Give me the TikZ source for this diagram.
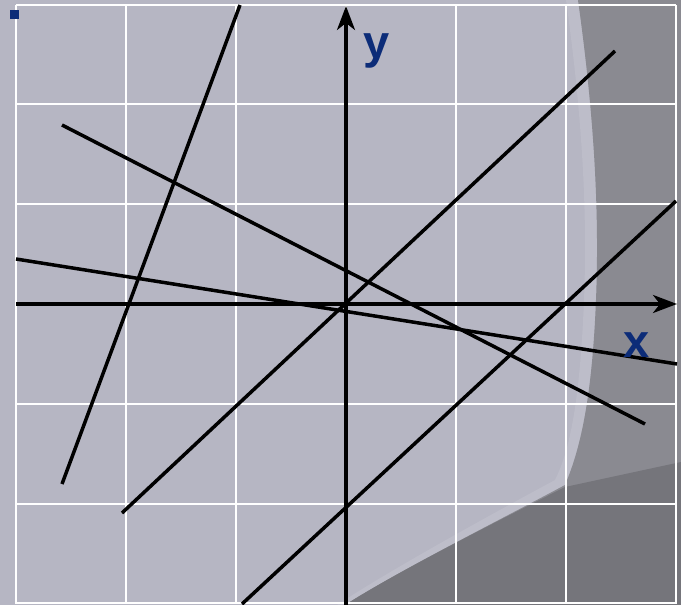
\documentclass[tikz,border=0pt]{standalone}
\usepackage{fontspec}
\newfontfamily\lblfont{Liberation Sans}
\usetikzlibrary{arrows.meta}
\definecolor{bglight}{HTML}{B6B6C3}
\definecolor{bgmid}{HTML}{8A8A91}
\definecolor{bgdark}{HTML}{75757B}
\definecolor{bghigh}{HTML}{BDBDC9}
\definecolor{lblblue}{HTML}{0C2C78}
\tikzset{
  gridline/.style={white, line width=2.8pt},
  blackline/.style={black, line width=3.5pt, line cap=butt},
  axisline/.style={black, line width=3.3pt, -{Stealth[length=24pt,width=18pt,inset=7pt]}},
  lbl/.style={text=lblblue, font=\lblfont\bfseries\fontsize{47}{47}\selectfont, inner sep=0pt, anchor=base}
}
\begin{document}
\begin{tikzpicture}[x=1pt,y=-1pt]
\useasboundingbox (0,0) rectangle (681,605);
% background
\fill[bglight] (0,0) rectangle (681,605);
% light highlight band near boundary
\fill[bghigh] (566,0) .. controls (580,100) and (588,200) .. (584,300)
  .. controls (580,400) and (570,450) .. (555,480)
  .. controls (490,515) and (390,570) .. (337,605)
  -- (345,605) .. controls (400,570) and (500,520) .. (565,485)
  .. controls (580,450) and (592,400) .. (596,300)
  .. controls (600,200) and (592,100) .. (578,0) -- cycle;
% darker region (right)
\fill[bgmid] (578,0) .. controls (592,100) and (600,200) .. (596,300)
  .. controls (592,400) and (580,450) .. (565,485)
  .. controls (500,520) and (400,570) .. (345,605)
  -- (681,605) -- (681,0) -- cycle;
% darkest region (bottom right)
\fill[bgdark] (345,605) .. controls (400,570) and (500,520) .. (565,487)
  -- (681,462) -- (681,605) -- cycle;
% grid
\foreach \gx in {16,126,236,346,456,566,676}
  \draw[gridline] (\gx,5) -- (\gx,604);
\foreach \gy in {5,104,204,304,404,504,603}
  \draw[gridline] (16,\gy) -- (676,\gy);
% small blue mark
\fill[lblblue] (10,10) rectangle (19,19);
% coordinates
\coordinate (l1a) at (240,5);   \coordinate (l1b) at (62,484);
\coordinate (l2a) at (62,125);  \coordinate (l2b) at (645,424);
\coordinate (l3a) at (16,259);  \coordinate (l3b) at (677,364);
\coordinate (l4a) at (122,513); \coordinate (l4b) at (615,51);
\coordinate (l5a) at (242,604); \coordinate (l5b) at (676,201);
\coordinate (xa) at (16,304);   \coordinate (xb) at (677,304);
\coordinate (ya) at (346,605);  \coordinate (yb) at (346,6);
% lines
\draw[blackline] (l1a) -- (l1b);
\draw[blackline] (l2a) -- (l2b);
\draw[blackline] (l3a) -- (l3b);
\draw[blackline] (l4a) -- (l4b);
\draw[blackline] (l5a) -- (l5b);
% axes
\draw[axisline] (xa) -- (xb);
\draw[axisline] (ya) -- (yb);
% labels
\node[lbl] (ylab) at (377,58) {y};
\node[lbl] (xlab) at (637,357) {x};
\end{tikzpicture}
\end{document}
